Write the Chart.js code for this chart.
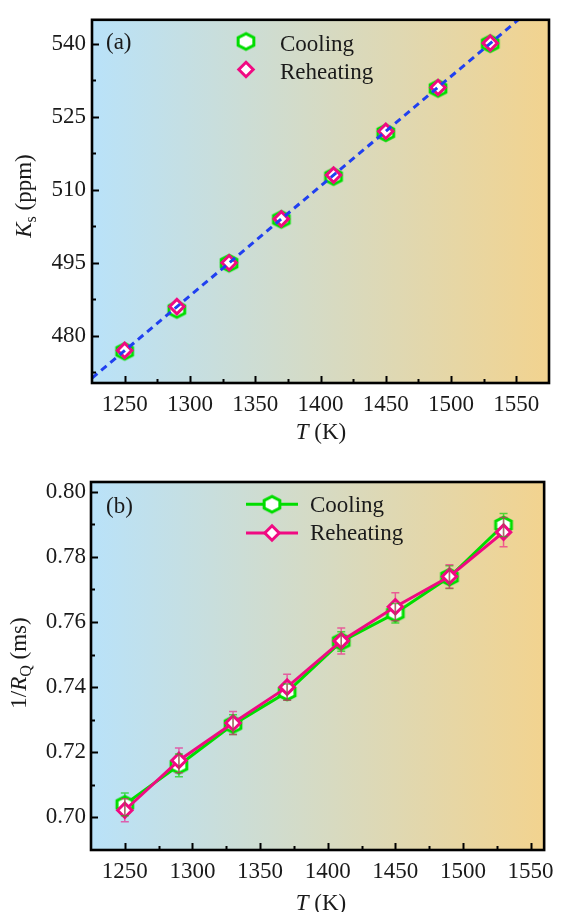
<!DOCTYPE html>
<html><head><meta charset="utf-8">
<script src="https://cdn.jsdelivr.net/npm/chart.js@4.4.1/dist/chart.umd.min.js"></script>
<style>
html,body{margin:0;padding:0;background:#fff;width:562px;height:912px;overflow:hidden}
.wrap{position:absolute;left:0;width:562px;height:456px}
canvas{display:block}
</style></head><body>
<div class="wrap" style="top:0"><canvas id="c1" width="562" height="456" style="width:562px;height:456px"></canvas></div>
<div class="wrap" style="top:456px"><canvas id="c2" width="562" height="456" style="width:562px;height:456px"></canvas></div>
<script>
// ---------- data ----------
const temperatureK = [1250, 1290, 1330, 1370, 1410, 1450, 1490, 1530];
const ksCooling = [476.8, 485.4, 494.9, 503.9, 512.7, 521.7, 530.8, 540.0];
const ksReheating = [477.0, 486.0, 495.0, 504.0, 513.0, 522.0, 531.0, 540.1];
const fitTemperatureK = [1225, 1575];
const fitKs = [471.3, 550.2];
const invRqCooling = [0.7040, 0.7160, 0.7285, 0.7385, 0.7540, 0.7627, 0.7738, 0.7898];
const invRqCoolingErr = [0.0035, 0.0035, 0.0030, 0.0025, 0.0030, 0.0030, 0.0035, 0.0035];
const invRqReheating = [0.7022, 0.7175, 0.7290, 0.7400, 0.7542, 0.7647, 0.7740, 0.7876];
const invRqReheatingErr = [0.0035, 0.0038, 0.0035, 0.0040, 0.0040, 0.0043, 0.0036, 0.0045];
const xTicks = [1250, 1300, 1350, 1400, 1450, 1500, 1550];
const xMinorTicks = [1275, 1325, 1375, 1425, 1475, 1525];
const ksTicks = [480, 495, 510, 525, 540];
const ksMinorTicks = [472.5, 487.5, 502.5, 517.5, 532.5];
const invRqTicks = [0.70, 0.72, 0.74, 0.76, 0.78, 0.80];
const invRqTickLabels = ['0.70', '0.72', '0.74', '0.76', '0.78', '0.80'];
const invRqMinorTicks = [0.71, 0.73, 0.75, 0.77, 0.79];
const seriesNames = ['Cooling', 'Reheating'];

// ---------- style ----------
const FF = "'Liberation Serif','DejaVu Serif',serif";
const FS = 23, FSUB = 16;
const GREEN = '#00dd00', PINK = '#f00a82', BLUE = '#2040f0', TXT = '#1a1a1a';

function makeHex(color) {
  const c = document.createElement('canvas'); c.width = 24; c.height = 24;
  const g = c.getContext('2d'); const cx = 12, cy = 12, rx = 7.85, ry = 7.8;
  g.beginPath();
  g.moveTo(cx, cy - ry); g.lineTo(cx + rx, cy - ry / 2); g.lineTo(cx + rx, cy + ry / 2);
  g.lineTo(cx, cy + ry); g.lineTo(cx - rx, cy + ry / 2); g.lineTo(cx - rx, cy - ry / 2);
  g.closePath();
  g.fillStyle = '#fff'; g.fill(); g.lineWidth = 3; g.strokeStyle = color; g.stroke();
  return c;
}
const hexGreen = makeHex(GREEN);

function richText(ctx, segs, x, y, rot) {
  ctx.save(); ctx.translate(x, y); if (rot) ctx.rotate(rot);
  const fontOf = s => (s.it ? 'italic ' : '') + (s.sub ? FSUB : FS) + 'px ' + FF;
  let total = 0; const w = [];
  segs.forEach(s => { ctx.font = fontOf(s); const m = ctx.measureText(s.t).width; w.push(m); total += m; });
  let cx = -total / 2;
  ctx.textBaseline = 'alphabetic'; ctx.textAlign = 'left'; ctx.fillStyle = TXT;
  segs.forEach((s, i) => { ctx.font = fontOf(s); ctx.fillText(s.t, cx, s.sub ? 5 : 0); cx += w[i]; });
  ctx.restore();
}

const deco = {
  id: 'deco',
  beforeDatasetsDraw(chart, args, o) {
    const { ctx, chartArea: a } = chart;
    ctx.save();
    const g = ctx.createLinearGradient(a.left, 0, a.right, 0);
    g.addColorStop(0, '#b9e2f9'); g.addColorStop(1, '#f2d38f');
    ctx.fillStyle = g; ctx.fillRect(a.left, a.top, a.right - a.left, a.bottom - a.top);
    ctx.restore();
  },
  afterDatasetsDraw(chart, args, o) {
    const { ctx, chartArea: a, scales: { x, y } } = chart;
    ctx.save();
    // error bars
    (o.errors || []).forEach(e => {
      ctx.strokeStyle = e.color; ctx.lineWidth = 1.5;
      temperatureK.forEach((t, i) => {
        const px = x.getPixelForValue(t);
        const p1 = y.getPixelForValue(e.vals[i] + e.err[i]);
        const p2 = y.getPixelForValue(e.vals[i] - e.err[i]);
        ctx.beginPath();
        ctx.moveTo(px, p1); ctx.lineTo(px, p2);
        ctx.moveTo(px - 4, p1); ctx.lineTo(px + 4, p1);
        ctx.moveTo(px - 4, p2); ctx.lineTo(px + 4, p2);
        ctx.stroke();
      });
    });
    // ticks
    ctx.strokeStyle = '#000'; ctx.lineWidth = 2;
    const tick = (list, len, axis) => list.forEach(v => {
      ctx.beginPath();
      if (axis === 'x') { const p = Math.round(x.getPixelForValue(v)) + 0.5; ctx.moveTo(p, a.bottom); ctx.lineTo(p, a.bottom - len); }
      else { const p = Math.round(y.getPixelForValue(v)) + 0.5; ctx.moveTo(a.left, p); ctx.lineTo(a.left + len, p); }
      ctx.stroke();
    });
    tick(o.xMajor, 7, 'x'); tick(o.xMinor, 4, 'x');
    tick(o.yMajor, 7, 'y'); tick(o.yMinor, 4, 'y');
    // frame
    ctx.lineWidth = 2.6; ctx.strokeStyle = '#000';
    ctx.strokeRect(a.left, a.top, a.right - a.left, a.bottom - a.top);
    // panel label
    ctx.font = FS + 'px ' + FF; ctx.fillStyle = TXT; ctx.textAlign = 'left'; ctx.textBaseline = 'alphabetic';
    ctx.fillText(o.panel, o.panelX, o.panelY);
    // legend
    const ds = chart.data.datasets;
    o.legend.forEach(L => {
      const d = ds[L.ds];
      if (L.line) {
        ctx.strokeStyle = d.borderColor; ctx.lineWidth = 3;
        ctx.beginPath(); ctx.moveTo(L.x0, L.y); ctx.lineTo(L.x1, L.y); ctx.stroke();
      }
      if (d.pointStyle instanceof HTMLCanvasElement) {
        ctx.drawImage(d.pointStyle, L.mx - d.pointStyle.width / 2, L.y - d.pointStyle.height / 2);
      } else {
        ctx.fillStyle = '#fff'; ctx.strokeStyle = d.pointBorderColor; ctx.lineWidth = d.pointBorderWidth;
        ctx.beginPath();
        const r = d.pointRadius;
        ctx.moveTo(L.mx, L.y - r); ctx.lineTo(L.mx + r, L.y); ctx.lineTo(L.mx, L.y + r); ctx.lineTo(L.mx - r, L.y); ctx.closePath();
        ctx.fill(); ctx.stroke();
      }
      ctx.font = FS + 'px ' + FF; ctx.fillStyle = TXT; ctx.textAlign = 'left'; ctx.textBaseline = 'alphabetic';
      ctx.fillText(d.label, L.tx, L.ty);
    });
    // axis titles
    richText(ctx, o.xTitle, o.xTitlePos[0], o.xTitlePos[1], 0);
    richText(ctx, o.yTitle, o.yTitlePos[0], o.yTitlePos[1], -Math.PI / 2);
    ctx.restore();
  }
};

function xScale(min, max, h) {
  return {
    type: 'linear', min, max,
    afterBuildTicks: s => { s.ticks = xTicks.map(v => ({ value: v })); },
    afterFit: s => { s.height = h; },
    ticks: { font: { family: FF, size: FS }, color: TXT, padding: 8, maxRotation: 0, autoSkip: false, callback: v => String(v) },
    grid: { display: false, drawTicks: false }, border: { display: false }
  };
}

// ---------- chart (a) ----------
new Chart(document.getElementById('c1'), {
  type: 'scatter',
  data: {
    datasets: [
      { label: 'fit', data: fitTemperatureK.map((t, i) => ({ x: t, y: fitKs[i] })), showLine: true,
        borderColor: BLUE, borderWidth: 3, borderDash: [7, 5], pointRadius: 0, order: 0, clip: 0 },
      { label: seriesNames[1], data: temperatureK.map((t, i) => ({ x: t, y: ksReheating[i] })),
        pointStyle: 'rectRot', pointRadius: 7.2, pointBorderWidth: 3, pointBorderColor: PINK, pointBackgroundColor: '#fff',
        borderColor: PINK, order: 1 },
      { label: seriesNames[0], data: temperatureK.map((t, i) => ({ x: t, y: ksCooling[i] })),
        pointStyle: hexGreen, pointRadius: 8, borderColor: GREEN, order: 2 }
    ]
  },
  options: {
    animation: false, responsive: false, events: [],
    layout: { padding: { top: 14, right: 13, left: 0, bottom: 0 } },
    scales: {
      x: xScale(1225, 1575, 73),
      y: {
        type: 'linear', min: 470.3, max: 544.9,
        afterBuildTicks: s => { s.ticks = ksTicks.map(v => ({ value: v })); },
        afterFit: s => { s.width = 92; },
        ticks: { font: { family: FF, size: FS }, color: TXT, padding: 6, callback: v => String(v) },
        grid: { display: false, drawTicks: false }, border: { display: false }
      }
    },
    plugins: {
      legend: { display: false }, tooltip: { enabled: false },
      deco: {
        xMajor: xTicks, xMinor: xMinorTicks, yMajor: ksTicks, yMinor: ksMinorTicks,
        panel: '(a)', panelX: 106, panelY: 49,
        legend: [
          { ds: 2, mx: 246, y: 41.5, tx: 280, ty: 50.5 },
          { ds: 1, mx: 246, y: 69.5, tx: 280, ty: 78.5 }
        ],
        xTitle: [{ t: 'T', it: true }, { t: ' (K)' }], xTitlePos: [321, 439],
        yTitle: [{ t: 'K', it: true }, { t: 's', sub: true }, { t: ' (ppm)' }], yTitlePos: [31, 196]
      }
    }
  },
  plugins: [deco]
});

// ---------- chart (b) ----------
new Chart(document.getElementById('c2'), {
  type: 'scatter',
  data: {
    datasets: [
      { label: seriesNames[1], data: temperatureK.map((t, i) => ({ x: t, y: invRqReheating[i] })), showLine: true,
        borderColor: PINK, borderWidth: 3,
        pointStyle: 'rectRot', pointRadius: 7.2, pointBorderWidth: 3, pointBorderColor: PINK, pointBackgroundColor: '#fff', order: 1 },
      { label: seriesNames[0], data: temperatureK.map((t, i) => ({ x: t, y: invRqCooling[i] })), showLine: true,
        borderColor: GREEN, borderWidth: 3, pointStyle: hexGreen, pointRadius: 8, order: 2 }
    ]
  },
  options: {
    animation: false, responsive: false, events: [],
    layout: { padding: { top: 26, right: 13, left: 0, bottom: 0 } },
    scales: {
      x: xScale(1225, 1560, 62),
      y: {
        type: 'linear', min: 0.690, max: 0.803,
        afterBuildTicks: s => { s.ticks = invRqTicks.map(v => ({ value: v })); },
        afterFit: s => { s.width = 91; },
        ticks: { font: { family: FF, size: FS }, color: TXT, padding: 5,
          callback: v => invRqTickLabels[invRqTicks.findIndex(t => Math.abs(t - v) < 1e-9)] },
        grid: { display: false, drawTicks: false }, border: { display: false }
      }
    },
    plugins: {
      legend: { display: false }, tooltip: { enabled: false },
      deco: {
        errors: [
          { vals: invRqCooling, err: invRqCoolingErr, color: 'rgba(0,210,0,0.65)' },
          { vals: invRqReheating, err: invRqReheatingErr, color: 'rgba(240,10,130,0.6)' }
        ],
        xMajor: xTicks, xMinor: xMinorTicks, yMajor: invRqTicks, yMinor: invRqMinorTicks,
        panel: '(b)', panelX: 106, panelY: 56.5,
        legend: [
          { ds: 1, line: true, x0: 246, x1: 298, mx: 272, y: 48.3, tx: 310, ty: 55.7 },
          { ds: 0, line: true, x0: 246, x1: 298, mx: 272, y: 77, tx: 310, ty: 84 }
        ],
        xTitle: [{ t: 'T', it: true }, { t: ' (K)' }], xTitlePos: [321, 454],
        yTitle: [{ t: '1/' }, { t: 'R', it: true }, { t: 'Q', sub: true }, { t: ' (ms)' }], yTitlePos: [25.6, 207]
      }
    }
  },
  plugins: [deco]
});
</script>
</body></html>
